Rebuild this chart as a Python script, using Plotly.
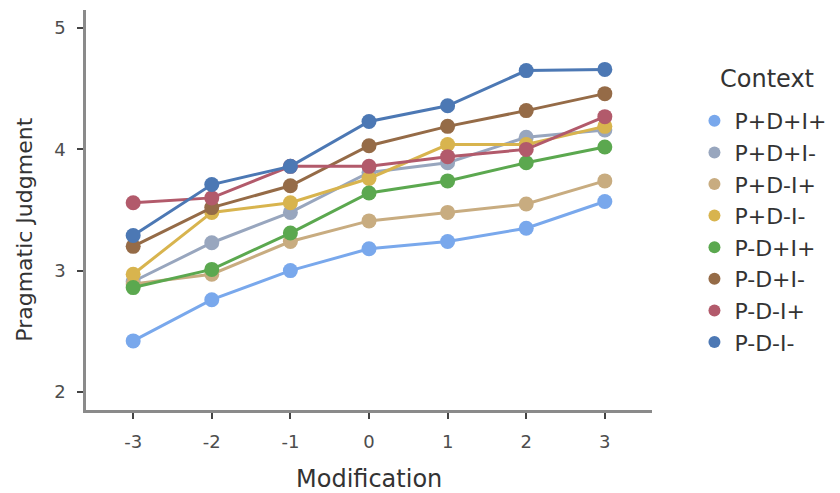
import plotly.graph_objects as go

modification = [-3, -2, -1, 0, 1, 2, 3]
contexts = ["P+D+I+", "P+D+I-", "P+D-I+", "P+D-I-", "P-D+I+", "P-D+I-", "P-D-I+", "P-D-I-"]
colors = ["#79A8EC", "#98A6BE", "#C8AC80", "#D8B44E", "#5BA84F", "#956B47", "#B25A6B", "#4C78B4"]

p_d_i_plus = [2.42, 2.76, 3.00, 3.18, 3.24, 3.35, 3.57]
p_d_i_minus = [2.91, 3.23, 3.48, 3.81, 3.89, 4.10, 4.16]
p_dm_i_plus = [2.89, 2.97, 3.24, 3.41, 3.48, 3.55, 3.74]
p_dm_i_minus = [2.97, 3.48, 3.56, 3.76, 4.04, 4.04, 4.19]
pm_d_i_plus = [2.86, 3.01, 3.31, 3.64, 3.74, 3.89, 4.02]
pm_d_i_minus = [3.20, 3.52, 3.70, 4.03, 4.19, 4.32, 4.46]
pm_dm_i_plus = [3.56, 3.60, 3.86, 3.86, 3.94, 4.00, 4.27]
pm_dm_i_minus = [3.29, 3.71, 3.86, 4.23, 4.36, 4.65, 4.66]

series = [p_d_i_plus, p_d_i_minus, p_dm_i_plus, p_dm_i_minus,
          pm_d_i_plus, pm_d_i_minus, pm_dm_i_plus, pm_dm_i_minus]

fig = go.Figure()
for name, vals, col in zip(contexts, series, colors):
    fig.add_trace(go.Scatter(
        x=modification, y=vals, name=name, showlegend=False,
        mode="lines+markers",
        line=dict(color=col, width=3),
        marker=dict(color=col, size=15),
    ))
# legend keys (point-style keys)
for name, col in zip(contexts, colors):
    fig.add_trace(go.Scatter(
        x=[None], y=[None], name=name, mode="markers",
        marker=dict(color=col, size=15), showlegend=True,
    ))

font_fam = "DejaVu Sans, Liberation Sans, sans-serif"
fig.update_layout(
    width=840, height=493,
    margin=dict(l=78, r=196, t=2, b=91, autoexpand=False),
    plot_bgcolor="white", paper_bgcolor="white",
    font=dict(family=font_fam, color="#4d4d4d"),
    showlegend=True,
    legend=dict(
        font=dict(size=22, color="#333333"),
        x=1.075, y=0.775, xanchor="left", yanchor="top",
        itemsizing="constant",
        bgcolor="rgba(0,0,0,0)",
    ),
    xaxis=dict(
        range=[-3.6, 3.6], tickvals=modification,
        ticktext=[str(v) for v in modification],
        showline=True, linecolor="#8a8a8a", linewidth=2.5,
        ticks="outside", ticklen=6, tickwidth=2, tickcolor="#444444",
        tickfont=dict(size=18, color="#4d4d4d"), ticklabelstandoff=8,
        showgrid=False, zeroline=False, automargin=False,
    ),
    yaxis=dict(
        range=[1.85, 5.15], tickvals=[2, 3, 4, 5],
        showline=True, linecolor="#8a8a8a", linewidth=2.5,
        ticks="outside", ticklen=6, tickwidth=2, tickcolor="#444444",
        tickfont=dict(size=18, color="#4d4d4d"), ticklabelstandoff=8,
        showgrid=False, zeroline=False, automargin=False,
    ),
    annotations=[
        dict(text="Modification", xref="paper", yref="paper", x=0.5, y=-0.1725,
             xanchor="center", yanchor="middle", showarrow=False,
             font=dict(size=24, color="#333333", family=font_fam)),
        dict(text="Pragmatic Judgment", xref="paper", yref="paper", x=-0.11, y=0.45,
             xanchor="center", yanchor="middle", showarrow=False, textangle=-90,
             font=dict(size=22, color="#333333", family=font_fam)),
        dict(text="Context", xref="paper", yref="paper", x=1.203, y=0.8275,
             xanchor="center", yanchor="middle", showarrow=False,
             font=dict(size=24, color="#333333", family=font_fam)),
    ],
)

fig.write_html("out.html")
